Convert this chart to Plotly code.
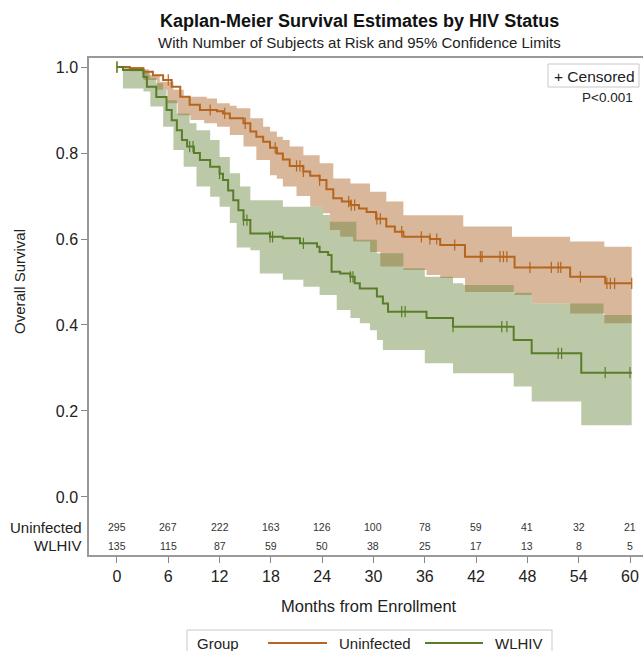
import numpy as np
import plotly.graph_objects as go

# ---------------- data ----------------
month_ticks = [0, 6, 12, 18, 24, 30, 36, 42, 48, 54, 60]
at_risk_uninfected = [295, 267, 222, 163, 126, 100, 78, 59, 41, 32, 21]
at_risk_wlhiv = [135, 115, 87, 59, 50, 38, 25, 17, 13, 8, 5]

# Kaplan-Meier step estimates (time in months, survival after the step)
uninf_t = [0, 1.5, 3.1, 4.2, 5.4, 6.4, 7.4, 8.5, 9.7, 11.7, 12.4, 13.2, 14.8, 15.6,
           16.3, 17.1, 17.9, 18.7, 19.4, 20.2, 21.8, 22.6, 23.7, 24.5, 25.3, 26.3,
           27.3, 28.3, 29.2, 30.3, 31.5, 32.5, 33.5, 36.6, 37.8, 40.7, 46.5, 53.0,
           57.1, 60.2]
uninf_s = [1.0, 0.997, 0.989, 0.981, 0.970, 0.954, 0.931, 0.912, 0.900, 0.897, 0.892,
           0.881, 0.869, 0.850, 0.838, 0.826, 0.812, 0.799, 0.785, 0.770, 0.757, 0.747,
           0.737, 0.716, 0.695, 0.687, 0.679, 0.671, 0.663, 0.647, 0.629, 0.617, 0.605,
           0.600, 0.586, 0.559, 0.534, 0.512, 0.497, 0.497]

wlhiv_t = [0, 0.7, 3.1, 3.5, 4.6, 5.8, 6.4, 7.0, 7.6, 8.2, 9.0, 9.7, 10.9, 12.0, 12.4,
           13.0, 13.6, 14.2, 14.8, 15.6, 17.9, 19.4, 21.4, 23.4, 23.7, 24.7, 25.1, 26.1,
           27.3, 27.8, 28.4, 30.4, 31.1, 31.7, 36.2, 39.3, 46.4, 48.5, 54.3, 60.2]
wlhiv_s = [1.0, 0.993, 0.977, 0.954, 0.930, 0.900, 0.876, 0.853, 0.830, 0.815, 0.800,
           0.784, 0.768, 0.752, 0.737, 0.713, 0.690, 0.667, 0.644, 0.613, 0.605, 0.602,
           0.590, 0.582, 0.570, 0.563, 0.524, 0.520, 0.512, 0.497, 0.485, 0.466, 0.450,
           0.431, 0.416, 0.396, 0.365, 0.334, 0.289, 0.289]

# 95% confidence limits (step edges)
uninf_ci_t = [0, 1.5, 3.1, 3.7, 4.7, 5.0, 5.9, 6.6, 7.1, 7.8, 8.6, 10.2, 10.5, 11.7,
              13.2, 14.0, 14.8, 15.6, 16.3, 17.1, 17.9, 18.7, 19.4, 20.2, 21.0, 21.8,
              22.6, 23.7, 24.1, 24.9, 25.3, 26.1, 27.3, 27.6, 29.6, 30.8, 31.5, 33.5,
              36.2, 37.8, 40.5, 40.7, 46.2, 46.5, 48.5, 53.0, 57.0, 60.2]
uninf_lo = [1.0, 0.990, 0.970, 0.970, 0.947, 0.947, 0.916, 0.916, 0.888, 0.888, 0.877,
            0.869, 0.869, 0.861, 0.842, 0.842, 0.815, 0.815, 0.784, 0.784, 0.748, 0.740,
            0.722, 0.722, 0.700, 0.700, 0.675, 0.675, 0.660, 0.621, 0.621, 0.605, 0.605,
            0.594, 0.570, 0.536, 0.536, 0.528, 0.516, 0.509, 0.509, 0.477, 0.477, 0.470,
            0.450, 0.427, 0.404, 0.404]
uninf_hi = [1.0, 1.0, 0.995, 0.981, 0.981, 0.966, 0.966, 0.947, 0.947, 0.931, 0.931,
            0.931, 0.927, 0.916, 0.910, 0.904, 0.904, 0.881, 0.881, 0.861, 0.850, 0.838,
            0.830, 0.815, 0.815, 0.795, 0.795, 0.776, 0.776, 0.776, 0.741, 0.741, 0.729,
            0.729, 0.710, 0.710, 0.687, 0.655, 0.655, 0.655, 0.629, 0.629, 0.605, 0.605,
            0.605, 0.594, 0.582, 0.582]

wlhiv_ci_t = [0, 0.7, 3.1, 3.9, 4.6, 5.4, 5.8, 6.6, 7.0, 7.8, 8.5, 9.3, 10.9, 12.0,
              13.2, 14.0, 14.4, 15.6, 16.7, 19.4, 21.8, 23.7, 24.1, 24.9, 25.7, 27.3,
              28.0, 28.4, 29.6, 30.4, 31.1, 33.5, 36.0, 39.3, 40.5, 46.4, 48.5, 54.3,
              56.9, 60.2]
wlhiv_lo = [1.0, 0.950, 0.943, 0.908, 0.908, 0.861, 0.861, 0.807, 0.807, 0.768, 0.768,
            0.722, 0.698, 0.675, 0.637, 0.580, 0.580, 0.574, 0.520, 0.505, 0.489, 0.470,
            0.470, 0.470, 0.435, 0.416, 0.416, 0.404, 0.388, 0.365, 0.342, 0.342, 0.311,
            0.288, 0.288, 0.257, 0.222, 0.167, 0.167, 0.167]
wlhiv_hi = [1.0, 0.999, 0.990, 0.975, 0.962, 0.947, 0.923, 0.923, 0.892, 0.892, 0.869,
            0.853, 0.830, 0.791, 0.753, 0.753, 0.722, 0.690, 0.690, 0.675, 0.675, 0.675,
            0.656, 0.640, 0.640, 0.640, 0.598, 0.598, 0.598, 0.567, 0.567, 0.532, 0.512,
            0.497, 0.493, 0.475, 0.450, 0.450, 0.423, 0.423]

# censoring times
uninf_cens = [0, 6.0, 10.9, 12.6, 15.0, 18.5, 21.0, 21.4, 21.8, 23.7, 27.1, 27.4, 27.8,
              30.4, 30.8, 33.3, 35.6, 36.6, 37.4, 39.5, 42.5, 42.7, 44.8, 45.2, 45.6,
              48.3, 50.8, 51.6, 51.9, 54.2, 57.3, 57.7, 58.2, 60.2]
wlhiv_cens = [0, 8.5, 8.9, 12.0, 14.8, 15.2, 17.9, 18.2, 21.8, 27.3, 27.6, 33.3, 33.7,
              39.3, 45.0, 45.6, 51.6, 52.0, 57.1, 60.0]

groups = ["Uninfected", "WLHIV"]
line_colors = {"Uninfected": "#B5651D", "WLHIV": "#5A7D2A"}
band_colors = {"Uninfected": "rgba(170,95,31,0.45)", "WLHIV": "rgba(106,135,64,0.45)"}

W, H = 643, 651
ML, MR, MT, MB = 89, 0, 58, 96
PW, PH = W - ML - MR, H - MT - MB


def pxx(x):
    return (x - ML) / PW


def pxy(y):
    return (H - MB - y) / PH


def step_value(t, s, c):
    i = np.searchsorted(np.asarray(t), c, side="right") - 1
    return np.asarray(s)[max(i, 0)]


series = {
    "Uninfected": (uninf_t, uninf_s, uninf_ci_t, uninf_lo, uninf_hi, uninf_cens),
    "WLHIV": (wlhiv_t, wlhiv_s, wlhiv_ci_t, wlhiv_lo, wlhiv_hi, wlhiv_cens),
}

fig = go.Figure()

# confidence bands
for g in groups:
    t, s, ct, lo, hi, cens = series[g]
    fig.add_trace(go.Scatter(x=ct, y=lo, mode="lines", line=dict(width=0, shape="hv"),
                             hoverinfo="skip", showlegend=False))
    fig.add_trace(go.Scatter(x=ct, y=hi, mode="lines", line=dict(width=0, shape="hv"),
                             fill="tonexty", fillcolor=band_colors[g],
                             hoverinfo="skip", showlegend=False))

# survival curves and censor marks
for g in groups:
    t, s, ct, lo, hi, cens = series[g]
    fig.add_trace(go.Scatter(x=t, y=s, mode="lines", name=g,
                             line=dict(color=line_colors[g], width=2, shape="hv"),
                             showlegend=False))
    cy = [step_value(t, s, c) for c in cens]
    fig.add_trace(go.Scatter(x=cens, y=cy, mode="markers",
                             marker=dict(symbol="line-ns", size=8,
                                         line=dict(color=line_colors[g], width=1.2)),
                             showlegend=False, hoverinfo="skip"))

FONT = "Liberation Sans, Arial, sans-serif"
ann = []


def label(x, y, text, size, xanchor="center", xref="paper", yref="paper", **kw):
    ann.append(dict(x=x, y=y, xref=xref, yref=yref, text=text, showarrow=False,
                    xanchor=xanchor, yanchor="middle",
                    font=dict(size=size, color=kw.pop("color", "#222")), **kw))


# at-risk table
risk_y = {"Uninfected": -0.070, "WLHIV": -0.114}
risk_vals = {"Uninfected": at_risk_uninfected, "WLHIV": at_risk_wlhiv}
for g in groups:
    for m, n in zip(month_ticks, risk_vals[g]):
        label(m, risk_y[g], str(n), 10.5, xref="x", yref="y", color="#333")
    label(pxx(84), risk_y[g], g, 15, xanchor="right", yref="y")

# titles
label(pxx(359), pxy(21), "<b>Kaplan-Meier Survival Estimates by HIV Status</b>", 18,
      color="#111")
label(pxx(359), pxy(42), "With Number of Subjects at Risk and 95% Confidence Limits", 15)
label(pxx(20), 0.5, "Overall Survival", 15, yref="y", textangle=-90)
label(pxx(369), pxy(606), "Months from Enrollment", 16.5)

# censor key and p-value
label(pxx(594), pxy(76), "+ Censored", 15.5)
label(pxx(607), pxy(98), "P&lt;0.001", 13.5)

# group legend
label(pxx(195), pxy(643), "Group", 15, xanchor="left")
label(pxx(337), pxy(643), "Uninfected", 15, xanchor="left")
label(pxx(493), pxy(643), "WLHIV", 15, xanchor="left")

shapes = [
    dict(type="rect", xref="paper", yref="paper", x0=pxx(548), x1=pxx(639),
         y0=pxy(87), y1=pxy(64), line=dict(color="#c8c8c8", width=1)),
    dict(type="rect", xref="paper", yref="paper", x0=pxx(187), x1=pxx(552),
         y0=pxy(662), y1=pxy(630), line=dict(color="#c8c8c8", width=1)),
    dict(type="line", xref="paper", yref="paper", x0=pxx(268), x1=pxx(327),
         y0=pxy(643), y1=pxy(643), line=dict(color=line_colors["Uninfected"], width=2)),
    dict(type="line", xref="paper", yref="paper", x0=pxx(425), x1=pxx(483),
         y0=pxy(643), y1=pxy(643), line=dict(color=line_colors["WLHIV"], width=2)),
]

fig.update_layout(
    width=W, height=H,
    margin=dict(l=ML, r=MR, t=MT, b=MB),
    plot_bgcolor="white", paper_bgcolor="white",
    font=dict(family=FONT, color="#222"),
    showlegend=False,
    annotations=ann, shapes=shapes,
    xaxis=dict(range=[-3.27, 61.52], tickvals=month_ticks, ticks="outside", ticklen=6,
               tickcolor="#888", showline=True, linecolor="#999", linewidth=1.5,
               mirror=True, showgrid=False, zeroline=False,
               tickfont=dict(size=16, color="#222")),
    yaxis=dict(range=[-0.135, 1.021], tickvals=[0, 0.2, 0.4, 0.6, 0.8, 1.0],
               ticktext=["0.0", "0.2", "0.4", "0.6", "0.8", "1.0"],
               ticks="outside", ticklen=6, tickcolor="#888", showline=True,
               linecolor="#999", linewidth=1.5, showgrid=False, zeroline=False,
               tickfont=dict(size=16, color="#222")),
)

fig.write_html("out.html")
